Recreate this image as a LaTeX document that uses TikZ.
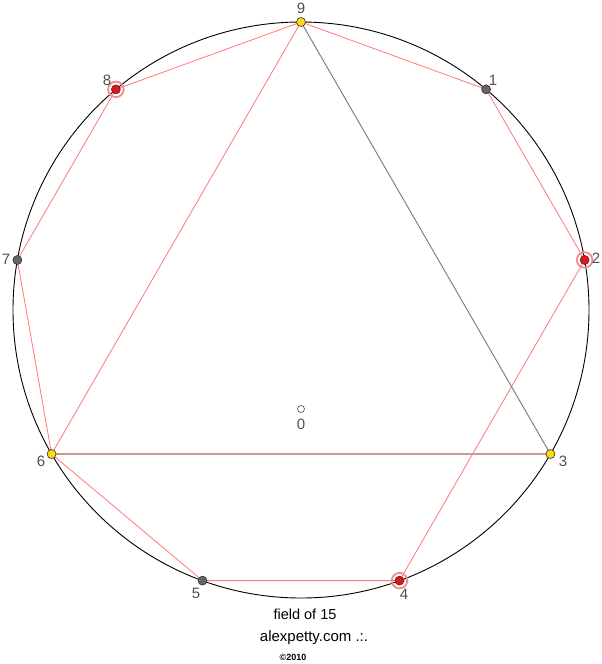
\documentclass[tikz,border=0pt]{standalone}
\usepackage{fontspec}
\setmainfont{Liberation Sans}
\begin{document}
\begin{tikzpicture}[x=1pt,y=-1pt,
  redline/.style={draw={rgb,255:red,255;green,120;blue,120},line width=0.8pt},
  grayline/.style={draw={rgb,255:red,120;green,120;blue,120},line width=0.9pt},
  mixline/.style={draw={rgb,255:red,198;green,155;blue,145},line width=1.4pt},
  ydot/.style={circle,draw=black!80,line width=0.6pt,fill={rgb,255:red,255;green,215;blue,20},minimum size=9pt,inner sep=0pt},
  gdot/.style={circle,draw=black!80,line width=0.6pt,fill=black!60,minimum size=9pt,inner sep=0pt},
  rdot/.style={circle,draw=black!80,line width=0.6pt,fill={rgb,255:red,230;green,20;blue,20},minimum size=9pt,inner sep=0pt},
  halo/.style={circle,draw={rgb,255:red,245;green,140;blue,140},line width=1.8pt,minimum size=15.5pt,inner sep=0pt},
  lab/.style={text={rgb,255:red,80;green,80;blue,80},font=\fontsize{15}{15}\selectfont,inner sep=0pt}
]
\useasboundingbox (0,0) rectangle (602,664);
\fill[white] (0,0) rectangle (602,664);
\coordinate (c) at (301,310);
\foreach \n/\a in {9/90,1/50,2/10,3/-30,4/-70,5/-110,6/-150,7/170,8/130}{
  \coordinate (p\n) at ({301+288*cos(\a)},{310-288*sin(\a)});
}
% circle
\draw[black,line width=0.9pt] (c) circle[radius=288];
% lines
\draw[redline] (p9) -- (p1) -- (p2) -- (p4) -- (p5) -- (p6) -- (p7) -- (p8) -- cycle;
\draw[redline] (p9) -- (p6);
\draw[grayline] (p9) -- (p3);
\draw[mixline] (p6) -- (p3);
% dots
\node[halo] (h8) at (p8) {};
\node[halo] (h2) at (p2) {};
\node[halo] (h4) at (p4) {};
\node[ydot] (d9) at (p9) {};
\node[ydot] (d3) at (p3) {};
\node[ydot] (d6) at (p6) {};
\node[gdot] (d1) at (p1) {};
\node[gdot] (d5) at (p5) {};
\node[gdot] (d7) at (p7) {};
\node[rdot] (d8) at (p8) {};
\node[rdot] (d2) at (p2) {};
\node[rdot] (d4) at (p4) {};
% center
\node[circle,draw=black!70,line width=0.6pt,fill=white,minimum size=7pt,inner sep=0pt] (d0) at (301,409) {};
% labels
\node[lab] (l9) at (301,8) {9};
\node[lab] (l1) at (493,80) {1};
\node[lab] (l2) at (596,258) {2};
\node[lab] (l3) at (563,461) {3};
\node[lab] (l4) at (404,594) {4};
\node[lab] (l5) at (196,593) {5};
\node[lab] (l6) at (41,461) {6};
\node[lab] (l7) at (6,259) {7};
\node[lab] (l8) at (107,80) {8};
\node[lab] (l0) at (301,424) {0};
% footer
\node[font=\fontsize{14.5}{15}\selectfont,inner sep=0pt] (t1) at (305,614) {field of 15};
\node[font=\fontsize{15}{15}\selectfont,inner sep=0pt] (t2) at (314,638) {alexpetty.com .:.};
\node[font=\bfseries\fontsize{9}{9}\selectfont,inner sep=0pt] (t3) at (293,657) {©2010};
\end{tikzpicture}
\end{document}
